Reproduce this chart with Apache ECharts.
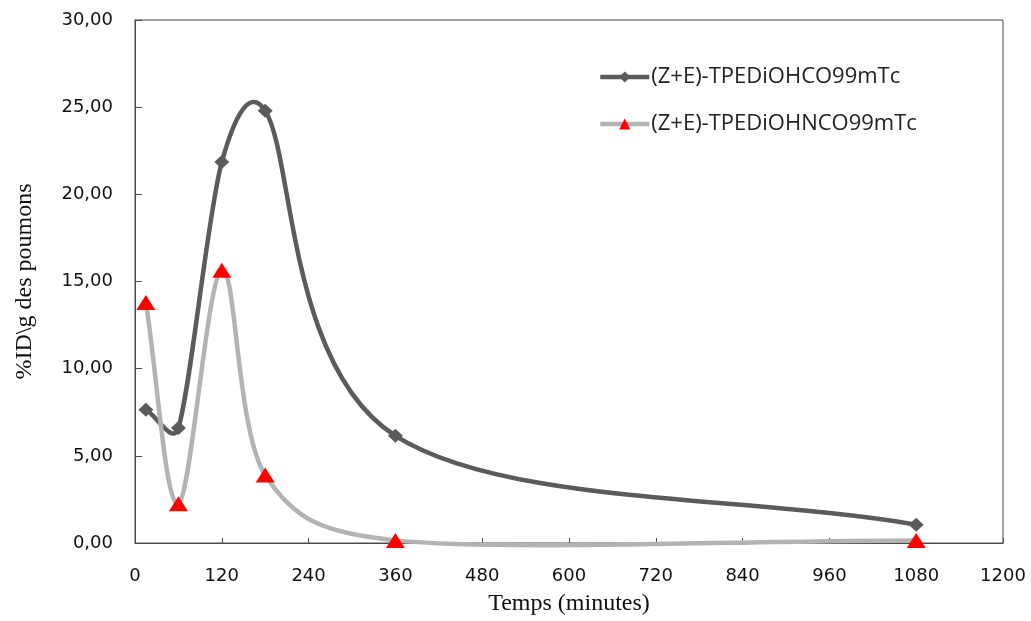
<!DOCTYPE html>
<html>
<head>
<meta charset="utf-8">
<script src="https://cdn.jsdelivr.net/npm/echarts@6/dist/echarts.min.js"></script>
<style>html,body{margin:0;padding:0;background:#fff}#c{width:1031px;height:621px}</style>
</head>
<body>
<div id="c"></div>
<script>
var times = [15, 60, 120, 180, 360, 1080];
var seriesCO = [7.65, 6.6, 21.85, 24.8, 6.15, 1.05];
var seriesNCO = [13.8, 2.25, 15.65, 3.9, 0.15, 0.15];
var seriesNames = ['(Z+E)-TPEDiOHCO99mTc', '(Z+E)-TPEDiOHNCO99mTc'];
var xTicks = [0, 120, 240, 360, 480, 600, 720, 840, 960, 1080, 1200];
var yTicks = [0, 5, 10, 15, 20, 25, 30];

var COLOR_CO = '#5b5b5b';
var COLOR_NCO = '#b3b3b3';

function pairs(xs, ys) { return xs.map(function (x, i) { return [x, ys[i]]; }); }

// Excel-like smoothed curve: cubic Bezier through the pixel positions given by the axes
function smoothPath(pts) {
  var n = pts.length;
  function tangent(i) {
    var a = pts[Math.max(i - 1, 0)], b = pts[Math.min(i + 1, n - 1)];
    var dx = b[0] - a[0], dy = b[1] - a[1];
    var L = Math.sqrt(dx * dx + dy * dy) || 1;
    var len = (i === 0 || i === n - 1) ? L / 3 : L / 6;
    return [dx / L, dy / L, len];
  }
  var d = 'M' + pts[0][0] + ' ' + pts[0][1];
  for (var i = 0; i < n - 1; i++) {
    var p = pts[i], q = pts[i + 1];
    var seg = Math.sqrt((q[0] - p[0]) * (q[0] - p[0]) + (q[1] - p[1]) * (q[1] - p[1]));
    var tp = tangent(i), tq = tangent(i + 1);
    var lp = Math.min(tp[2], seg * 0.5), lq = Math.min(tq[2], seg * 0.5);
    var c1 = [p[0] + tp[0] * lp, p[1] + tp[1] * lp];
    var c2 = [q[0] - tq[0] * lq, q[1] - tq[1] * lq];
    d += ' C' + c1[0] + ' ' + c1[1] + ' ' + c2[0] + ' ' + c2[1] + ' ' + q[0] + ' ' + q[1];
  }
  return d;
}

function curveSeries(name, ys, color, z) {
  var data = pairs(times, ys);
  return {
    name: name, type: 'custom', z: z, silent: true, clip: false,
    data: data,
    encode: { x: 0, y: 1 },
    renderItem: function (params, api) {
      if (params.dataIndex !== 0) return null;
      var pts = data.map(function (d) { return api.coord(d); });
      return {
        type: 'path',
        shape: { pathData: smoothPath(pts) },
        style: { fill: 'none', stroke: color, lineWidth: 4.5, lineCap: 'round', lineJoin: 'round' }
      };
    }
  };
}

var axisColor = '#4a4a4a';
var chart = echarts.init(document.getElementById('c'), null, { renderer: 'canvas' });
chart.setOption({
  animation: false,
  backgroundColor: '#fff',
  grid: { left: 135, top: 20, right: 28, bottom: 74, show: true, borderColor: axisColor, borderWidth: 1, backgroundColor: 'transparent' },
  legend: {
    orient: 'vertical', left: 593, top: 61, itemGap: 25, itemWidth: 49, itemHeight: 14,
    textStyle: { fontFamily: 'Open Sans', fontSize: 22, color: '#222', padding: [0, 0, 0, -3] },
    data: [
      { name: seriesNames[0], lineStyle: { color: COLOR_CO, width: 4.5, opacity: 1 }, itemStyle: { color: COLOR_CO } },
      { name: seriesNames[1], lineStyle: { color: COLOR_NCO, width: 4.5, opacity: 1 }, itemStyle: { color: '#ff0000' } }
    ]
  },
  xAxis: {
    type: 'value', min: 0, max: 1200, interval: 120,
    name: 'Temps (minutes)', nameLocation: 'middle', nameGap: 49,
    nameTextStyle: { fontFamily: 'Liberation Serif', fontSize: 24, color: '#111' },
    axisLine: { show: true, lineStyle: { color: axisColor, width: 1 } },
    axisTick: { show: true, inside: true, length: 5, lineStyle: { color: axisColor } },
    splitLine: { show: false },
    axisLabel: { margin: 24, fontFamily: 'DejaVu Sans', fontSize: 18, color: '#111',
      formatter: function (v) { return xTicks.indexOf(v) >= 0 ? String(v) : ''; } }
  },
  yAxis: {
    type: 'value', min: 0, max: 30, interval: 5,
    name: '%ID\\g des poumons', nameLocation: 'middle', nameGap: 98, nameRotate: 90,
    nameTextStyle: { fontFamily: 'Liberation Serif', fontSize: 24, color: '#111' },
    axisLine: { show: true, lineStyle: { color: axisColor, width: 1 } },
    axisTick: { show: true, inside: true, length: 7, lineStyle: { color: axisColor } },
    splitLine: { show: false },
    axisLabel: { margin: 22, fontFamily: 'DejaVu Sans', fontSize: 18, color: '#111',
      formatter: function (v) { return yTicks.indexOf(v) >= 0 ? v.toFixed(2).replace('.', ',') : ''; } }
  },
  series: [
    {
      name: seriesNames[0], type: 'line', z: 4,
      data: pairs(times, seriesCO),
      symbol: 'diamond', symbolSize: [15, 14],
      lineStyle: { color: COLOR_CO, width: 0, opacity: 0 },
      itemStyle: { color: COLOR_CO }
    },
    {
      name: seriesNames[1], type: 'line', z: 5,
      data: pairs(times, seriesNCO),
      symbol: 'triangle', symbolSize: [19, 15],
      lineStyle: { color: COLOR_NCO, width: 0, opacity: 0 },
      itemStyle: { color: '#ff0000' }
    },
    curveSeries('curveCO', seriesCO, COLOR_CO, 2),
    curveSeries('curveNCO', seriesNCO, COLOR_NCO, 3)
  ]
});
</script>
</body>
</html>
